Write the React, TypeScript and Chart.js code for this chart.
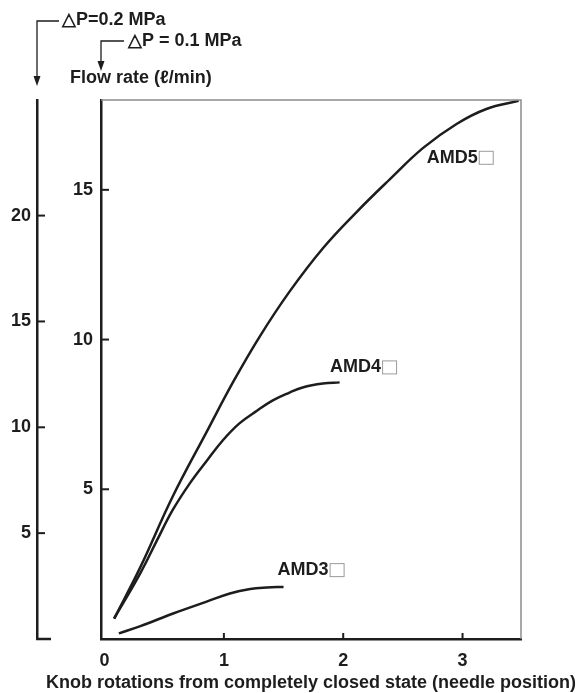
import React, { useEffect, useRef } from "react";
import { Chart, registerables } from "chart.js";

Chart.register(...registerables);

// ---- data ----
const xTicks = [0, 1, 2, 3];
const innerTicks = [5, 10, 15];
const outerTicks = [5, 10, 15, 20];

const amd5X = [0.08, 0.3, 0.57, 0.86, 1.08, 1.3, 1.55, 1.83, 2.11, 2.39, 2.67, 2.95, 3.2, 3.47];
const amd5Y = [0.68, 2.4, 4.75, 6.95, 8.6, 10.1, 11.6, 13.05, 14.25, 15.35, 16.4, 17.2, 17.7, 17.97];

const amd4X = [0.08, 0.3, 0.44, 0.57, 0.72, 0.86, 0.99, 1.13, 1.28, 1.41, 1.55, 1.66, 1.83, 1.97];
const amd4Y = [0.68, 2.2, 3.3, 4.3, 5.23, 5.97, 6.63, 7.2, 7.63, 7.97, 8.23, 8.4, 8.53, 8.57];

const amd3X = [0.12, 0.3, 0.58, 0.85, 1.05, 1.22, 1.36, 1.5];
const amd3Y = [0.19, 0.43, 0.86, 1.24, 1.52, 1.67, 1.72, 1.74];

const seriesNames = ["AMD5", "AMD4", "AMD3"];
const labelAnchorX = [2.7, 1.89, 1.45];
const labelAnchorY = [16.07, 9.07, 2.3];

const xTitle = "Knob rotations from completely closed state (needle position)";
const yTitle = "Flow rate (ℓ/min)";
const dp1 = "△P=0.2 MPa";
const dp2 = "△P = 0.1 MPa";

const FAMILY = '"Liberation Sans", Arial, Helvetica, sans-serif';
const SIZE = 18;
const WEIGHT = "bold";
const INK = "#1d1d1d";

const pts = (xs: number[], ys: number[]) => xs.map((x, i) => ({ x, y: ys[i] }));

const decorPlugin = {
  id: "decor",
  afterDraw(chart: any) {
    const { ctx, chartArea } = chart;
    const { left, right, top, bottom } = chartArea;
    const xs = chart.scales.x;
    const ys = chart.scales.y;
    const y2 = chart.scales.y2;
    const line = (x1: number, y1: number, x2: number, yy2: number) => {
      ctx.beginPath();
      ctx.moveTo(x1, y1);
      ctx.lineTo(x2, yy2);
      ctx.stroke();
    };
    ctx.save();
    // gray top/right frame
    ctx.strokeStyle = "#8c8c8c";
    ctx.lineWidth = 1.5;
    ctx.beginPath();
    ctx.moveTo(left, top);
    ctx.lineTo(right, top);
    ctx.lineTo(right, bottom);
    ctx.stroke();

    // tick marks
    ctx.strokeStyle = INK;
    ctx.lineWidth = 2;
    for (const v of innerTicks) {
      const p = ys.getPixelForValue(v);
      line(left, p, left + 8, p);
    }
    const ox = y2.right;
    for (const v of outerTicks) {
      const p = y2.getPixelForValue(v);
      line(ox, p, ox + 8, p);
    }
    for (const v of xTicks) {
      if (v === 0) continue;
      const p = xs.getPixelForValue(v);
      line(p, bottom, p, bottom - 6);
    }
    // outer axis foot
    ctx.lineWidth = 2.5;
    line(ox - 1, bottom, ox + 14, bottom);

    // arrows
    ctx.lineWidth = 1.3;
    ctx.fillStyle = INK;
    const arrow = (ax: number, hy: number, hx2: number, tipY: number) => {
      ctx.beginPath();
      ctx.moveTo(hx2, hy);
      ctx.lineTo(ax, hy);
      ctx.lineTo(ax, tipY - 8);
      ctx.stroke();
      ctx.beginPath();
      ctx.moveTo(ax - 3.5, tipY - 10);
      ctx.lineTo(ax + 3.5, tipY - 10);
      ctx.lineTo(ax, tipY);
      ctx.closePath();
      ctx.fill();
    };
    arrow(ox, 21, ox + 22, 86);
    arrow(left, 41, left + 23, 71);

    ctx.font = `${WEIGHT} ${SIZE}px ${FAMILY}`;
    ctx.textBaseline = "middle";
    ctx.textAlign = "left";
    ctx.fillStyle = INK;
    ctx.fillText(dp1, ox + 25, 20);
    ctx.fillText(dp2, left + 27, 41);
    ctx.fillText(yTitle, left - 31, 78);

    // x axis title (drawn without width limit)
    ctx.textAlign = "center";
    ctx.fillText(xTitle, (left + right) / 2, bottom + 44);
    ctx.textAlign = "left";

    // series labels
    seriesNames.forEach((name, i) => {
      const px = xs.getPixelForValue(labelAnchorX[i]);
      const py = ys.getPixelForValue(labelAnchorY[i]);
      ctx.fillStyle = INK;
      ctx.fillText(name, px, py);
      const w = ctx.measureText(name).width;
      ctx.strokeStyle = "#9a9a9a";
      ctx.lineWidth = 1;
      ctx.strokeRect(px + w + 1.5, py - 6.5, 14, 13);
    });
    ctx.restore();
  },
};

export default function App() {
  const ref = useRef<HTMLCanvasElement | null>(null);
  useEffect(() => {
    document.body.style.margin = "0";
    const canvas = ref.current!;
    const font = { family: FAMILY, size: SIZE, weight: WEIGHT };
    const mk = (xsArr: number[], ysArr: number[]) => ({
      data: pts(xsArr, ysArr),
      borderColor: INK,
      borderWidth: 2.5,
      pointRadius: 0,
      fill: false,
      tension: 0.4,
      borderCapStyle: "butt" as const,
    });
    const chart = new Chart(canvas, {
      type: "line",
      data: {
        datasets: [mk(amd5X, amd5Y), mk(amd4X, amd4Y), mk(amd3X, amd3Y)],
      },
      options: {
        animation: false,
        responsive: false,
        devicePixelRatio: 1,
        layout: { padding: { top: 100, right: 57, left: 0, bottom: 0 } },
        plugins: { legend: { display: false }, tooltip: { enabled: false } },
        scales: {
          x: {
            type: "linear",
            min: -0.03,
            max: 3.49,
            grid: { display: false, drawTicks: false },
            border: { display: true, color: INK, width: 2.5 },
            afterBuildTicks: (s: any) => {
              s.ticks = xTicks.map((v) => ({ value: v }));
            },
            afterFit: (s: any) => {
              s.height = 54;
            },
            ticks: { color: INK, font, padding: 11, maxRotation: 0 },
            title: { display: false },
          },
          y: {
            type: "linear",
            position: "left",
            weight: 0,
            min: 0,
            max: 18,
            grid: { display: false, drawTicks: false },
            border: { display: true, color: INK, width: 2.5 },
            afterBuildTicks: (s: any) => {
              s.ticks = innerTicks.map((v) => ({ value: v }));
            },
            afterFit: (s: any) => {
              s.width = 64;
            },
            ticks: { color: INK, font, padding: 8 },
          },
          y2: {
            type: "linear",
            position: "left",
            weight: 1,
            min: 0,
            max: 25.46,
            grid: { display: false, drawTicks: false },
            border: { display: true, color: INK, width: 2.5 },
            afterBuildTicks: (s: any) => {
              s.ticks = outerTicks.map((v) => ({ value: v }));
            },
            afterFit: (s: any) => {
              s.width = 37;
            },
            ticks: { color: INK, font, padding: 6 },
          },
        },
      },
      plugins: [decorPlugin],
    });
    return () => chart.destroy();
  }, []);
  return (
    <div style={{ width: 578, height: 693 }}>
      <canvas ref={ref} width={578} height={693} style={{ display: "block" }} />
    </div>
  );
}
